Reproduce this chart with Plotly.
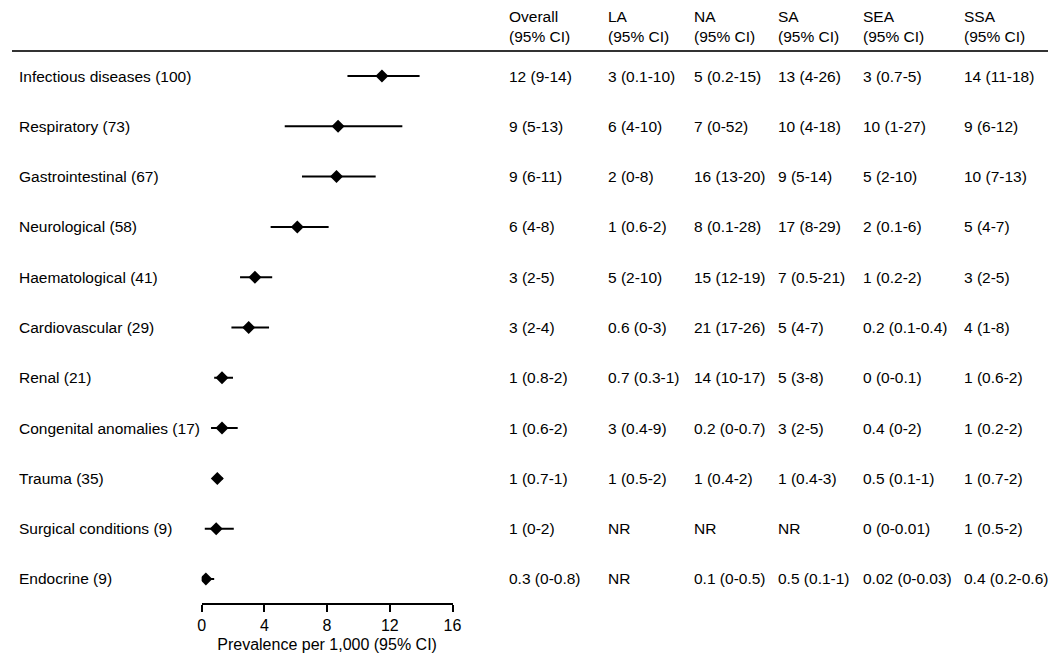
import plotly.graph_objects as go

W, H = 1056, 655

categories = ["Infectious diseases (100)", "Respiratory (73)", "Gastrointestinal (67)",
              "Neurological (58)", "Haematological (41)", "Cardiovascular (29)",
              "Renal (21)", "Congenital anomalies (17)", "Trauma (35)",
              "Surgical conditions (9)", "Endocrine (9)"]

prevalence = [11.5, 8.7, 8.6, 6.1, 3.4, 3.0, 1.3, 1.3, 1.0, 0.93, 0.27]
ci_low = [9.3, 5.3, 6.4, 4.4, 2.45, 1.9, 0.8, 0.6, 0.76, 0.2, 0.05]
ci_high = [13.9, 12.8, 11.1, 8.1, 4.5, 4.3, 2.0, 2.3, 1.35, 2.05, 0.8]

x_ticks = [0, 4, 8, 12, 16]

col_names = ["Overall", "LA", "NA", "SA", "SEA", "SSA"]
overall = ["12 (9-14)", "9 (5-13)", "9 (6-11)", "6 (4-8)", "3 (2-5)", "3 (2-4)",
           "1 (0.8-2)", "1 (0.6-2)", "1 (0.7-1)", "1 (0-2)", "0.3 (0-0.8)"]
la = ["3 (0.1-10)", "6 (4-10)", "2 (0-8)", "1 (0.6-2)", "5 (2-10)", "0.6 (0-3)",
      "0.7 (0.3-1)", "3 (0.4-9)", "1 (0.5-2)", "NR", "NR"]
na = ["5 (0.2-15)", "7 (0-52)", "16 (13-20)", "8 (0.1-28)", "15 (12-19)", "21 (17-26)",
      "14 (10-17)", "0.2 (0-0.7)", "1 (0.4-2)", "NR", "0.1 (0-0.5)"]
sa = ["13 (4-26)", "10 (4-18)", "9 (5-14)", "17 (8-29)", "7 (0.5-21)", "5 (4-7)",
      "5 (3-8)", "3 (2-5)", "1 (0.4-3)", "NR", "0.5 (0.1-1)"]
sea = ["3 (0.7-5)", "10 (1-27)", "5 (2-10)", "2 (0.1-6)", "1 (0.2-2)", "0.2 (0.1-0.4)",
       "0 (0-0.1)", "0.4 (0-2)", "0.5 (0.1-1)", "0 (0-0.01)", "0.02 (0-0.03)"]
ssa = ["14 (11-18)", "9 (6-12)", "10 (7-13)", "5 (4-7)", "3 (2-5)", "4 (1-8)",
       "1 (0.6-2)", "1 (0.2-2)", "1 (0.7-2)", "1 (0.5-2)", "0.4 (0.2-0.6)"]
columns = [overall, la, na, sa, sea, ssa]

col_x = [502, 602, 689, 775, 861, 963]  # left edges in px

rows = list(range(len(categories)))
font = dict(family="Liberation Sans, Arial, sans-serif", size=15.5, color="black")

fig = go.Figure()
fig.add_trace(go.Scatter(
    x=prevalence, y=rows, mode="markers",
    marker=dict(symbol="diamond", size=10, color="black"),
    error_x=dict(type="data", symmetric=False,
                 array=[h - p for h, p in zip(ci_high, prevalence)],
                 arrayminus=[p - l for p, l in zip(prevalence, ci_low)],
                 color="black", thickness=2, width=0),
    showlegend=False, hoverinfo="skip",
))

ann = []
for i, lab in enumerate(categories):
    ann.append(dict(x=6 / W, y=i, xref="paper", yref="y", text=lab, borderpad=0,
                    xanchor="left", yanchor="middle", showarrow=False, font=font))
    for cx, col in zip(col_x, columns):
        ann.append(dict(x=cx / W, y=i, xref="paper", yref="y", text=col[i], borderpad=0,
                        xanchor="left", yanchor="middle", showarrow=False, font=font))
for cx, name in zip(col_x, col_names):
    ann.append(dict(x=cx / W, y=1 - 19 / H, xref="paper", yref="paper", borderpad=0,
                    text=name + "<br>(95% CI)", align="left",
                    xanchor="left", yanchor="middle", showarrow=False, font=font))

fig.add_shape(type="line", xref="paper", yref="paper", x0=0, x1=1049 / W,
              y0=1 - 43 / H, y1=1 - 43 / H, line=dict(color="#333", width=2))

fig.update_layout(
    width=W, height=H, margin=dict(l=0, r=0, t=0, b=0),
    plot_bgcolor="white", paper_bgcolor="white", font=font,
    annotations=ann,
    xaxis=dict(domain=[192 / W, 446 / W], range=[0, 16], tickvals=x_ticks,
               showgrid=False, zeroline=False, showline=True, linecolor="black",
               linewidth=1.5, ticks="outside", ticklen=7, tickwidth=1.5,
               tickcolor="black", tickfont=dict(font, size=16),
               title=dict(text="Prevalence per 1,000 (95% CI)",
                          font=dict(font, size=16), standoff=6)),
    yaxis=dict(domain=[60 / H, 607 / H], range=[10.4774, -0.3976],
               showgrid=False, zeroline=False, showline=False,
               showticklabels=False, ticks=""),
)

fig.write_html("out.html")
